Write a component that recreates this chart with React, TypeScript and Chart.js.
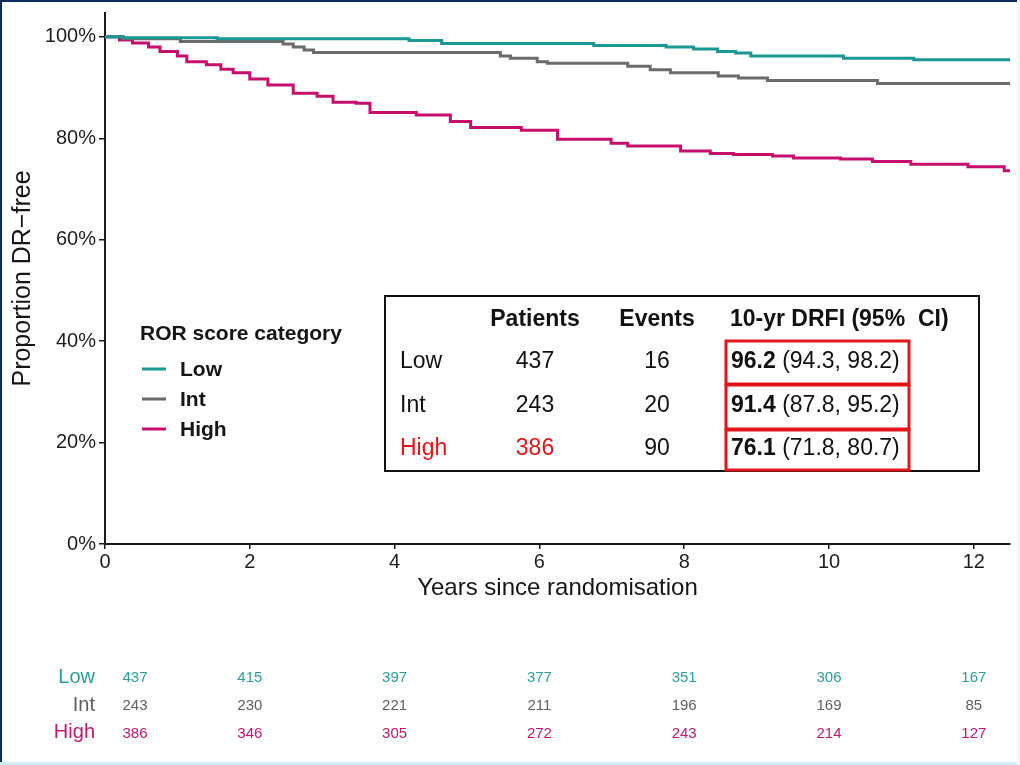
import React, { useEffect, useRef } from "react";
import { Chart, registerables } from "chart.js";

Chart.register(...registerables);

// Kaplan–Meier step curves: event times (years) and DR-free proportion (%) after each step
const lowTimes = [0, 0.25, 1.55, 4.2, 4.65, 6.75, 7.75, 8.13, 8.46, 8.71, 8.92, 10.2, 11.17, 12.5];
const lowSurv = [100, 99.8, 99.6, 99.3, 98.7, 98.3, 98.0, 97.6, 97.1, 96.8, 96.2, 95.8, 95.5, 95.5];

const intTimes = [0, 0.25, 1.04, 2.46, 2.6, 2.75, 2.88, 5.46, 5.6, 5.97, 6.11, 7.22, 7.53, 7.81, 8.47, 8.75, 9.15, 10.67, 12.5];
const intSurv = [100, 99.6, 99.1, 98.6, 98.0, 97.4, 96.9, 96.2, 95.8, 95.1, 94.8, 94.2, 93.5, 92.9, 92.3, 91.9, 91.4, 90.8, 90.8];

const highTimes = [0, 0.2, 0.38, 0.6, 0.76, 1.0, 1.13, 1.4, 1.6, 1.77, 2.0, 2.25, 2.6, 2.93, 3.15, 3.47, 3.66, 4.3, 4.77, 5.05, 5.75, 6.25, 6.99, 7.22, 7.95, 8.36, 8.68, 9.22, 9.51, 10.16, 10.6, 11.13, 11.92, 12.42, 12.5];
const highSurv = [100, 99.4, 98.8, 98.0, 97.1, 96.2, 95.1, 94.5, 93.6, 92.9, 91.7, 90.5, 88.9, 88.3, 87.1, 86.9, 85.1, 84.6, 83.3, 82.1, 81.6, 79.8, 79.0, 78.5, 77.5, 77.0, 76.8, 76.5, 76.1, 75.9, 75.4, 74.9, 74.4, 73.6, 73.6];

// Axis ticks
const xTicks = [0, 2, 4, 6, 8, 10, 12];
const yTicks = [0, 20, 40, 60, 80, 100];

// Numbers at risk
const riskTimes = [0, 2, 4, 6, 8, 10, 12];
const riskLow = [437, 415, 397, 377, 351, 306, 167];
const riskInt = [243, 230, 221, 211, 196, 169, 85];
const riskHigh = [386, 346, 305, 272, 243, 214, 127];

// Summary table
const groupNames = ["Low", "Int", "High"];
const patients = [437, 243, 386];
const events = [16, 20, 90];
const drfi10 = [96.2, 91.4, 76.1];
const ciLower = [94.3, 87.8, 71.8];
const ciUpper = [98.2, 95.2, 80.7];

const TEAL = "#1a9893";
const GRAY = "#6b6b6b";
const MAGENTA = "#c60f6c";
const FONT = "'Liberation Sans', Arial, Helvetica, sans-serif";

const toPoints = (t: number[], s: number[]) => t.map((x, i) => ({ x, y: s[i] }));

const overlayPlugin = {
  id: "overlay",
  afterDraw(chart: any) {
    const ctx: CanvasRenderingContext2D = chart.ctx;
    const xs = chart.scales.x;
    ctx.save();

    // Frame
    ctx.fillStyle = "#0d2c5c";
    ctx.fillRect(0, 0, 2, 765);
    ctx.fillRect(0, 0, 1020, 2);
    ctx.fillStyle = "#cdeef6";
    ctx.fillRect(0, 762, 1020, 3);
    ctx.fillStyle = "#eef7fa";
    ctx.fillRect(1017, 0, 3, 765);

    // Legend
    ctx.textBaseline = "middle";
    ctx.textAlign = "left";
    ctx.fillStyle = "#151515";
    ctx.font = `bold 21px ${FONT}`;
    ctx.fillText("ROR score category", 140, 334);
    const legendCols = [TEAL, GRAY, MAGENTA];
    const legendY = [369, 399, 429];
    groupNames.forEach((g, i) => {
      ctx.strokeStyle = legendCols[i];
      ctx.lineWidth = 3;
      ctx.beginPath();
      ctx.moveTo(142, legendY[i]);
      ctx.lineTo(166, legendY[i]);
      ctx.stroke();
      ctx.fillStyle = "#151515";
      ctx.fillText(g, 180, legendY[i] + 1);
    });

    // Summary table box
    ctx.fillStyle = "#ffffff";
    ctx.fillRect(385, 296, 594, 175);
    ctx.strokeStyle = "#111";
    ctx.lineWidth = 2;
    ctx.strokeRect(385, 296, 594, 175);

    ctx.fillStyle = "#111";
    ctx.font = `bold 23px ${FONT}`;
    ctx.textAlign = "center";
    ctx.fillText("Patients", 535, 320);
    ctx.fillText("Events", 657, 320);
    ctx.textAlign = "left";
    ctx.fillText("10-yr DRFI (95%  CI)", 730, 320);

    const rowY = [362, 406, 449];
    const RED = "#e0161b";
    groupNames.forEach((g, i) => {
      const y = rowY[i];
      const isHigh = g === "High";
      ctx.font = `23px ${FONT}`;
      ctx.textAlign = "left";
      ctx.fillStyle = isHigh ? RED : "#111";
      ctx.fillText(g, 400, y);
      ctx.textAlign = "center";
      ctx.fillText(String(patients[i]), 535, y);
      ctx.fillStyle = "#111";
      ctx.fillText(String(events[i]), 657, y);
      ctx.textAlign = "left";
      ctx.font = `bold 23px ${FONT}`;
      const bold = drfi10[i].toFixed(1);
      ctx.fillText(bold, 731, y);
      const w = ctx.measureText(bold).width;
      ctx.font = `23px ${FONT}`;
      ctx.fillText(` (${ciLower[i].toFixed(1)}, ${ciUpper[i].toFixed(1)})`, 731 + w, y);
    });

    // Red highlight boxes around the 10-year estimates
    ctx.strokeStyle = RED;
    ctx.lineWidth = 3;
    const boxTops = [341, 385, 430];
    const boxBottoms = [384, 429, 470];
    boxTops.forEach((t, i) => {
      ctx.strokeRect(726, t, 183, boxBottoms[i] - t);
    });

    // Numbers at risk
    const riskRows = [riskLow, riskInt, riskHigh];
    const riskCols = ["#2a9f99", "#5f5f5f", "#c2176e"];
    const labelY = [677, 705, 732];
    const numY = [678, 706, 734];
    riskRows.forEach((row, r) => {
      ctx.fillStyle = riskCols[r];
      ctx.font = `20px ${FONT}`;
      ctx.textAlign = "right";
      ctx.fillText(groupNames[r], 95, labelY[r]);
      ctx.font = `15px ${FONT}`;
      ctx.textAlign = "center";
      row.forEach((n, k) => {
        let px = xs.getPixelForValue(riskTimes[k]);
        if (k === 0) px += 30;
        ctx.fillText(String(n), px, numY[r]);
      });
    });

    ctx.restore();
  },
};

export default function App() {
  const canvasRef = useRef<HTMLCanvasElement | null>(null);

  useEffect(() => {
    if (!canvasRef.current) return;
    const chart = new Chart(canvasRef.current, {
      type: "line",
      data: {
        datasets: [
          { label: "Low", data: toPoints(lowTimes, lowSurv), borderColor: TEAL },
          { label: "Int", data: toPoints(intTimes, intSurv), borderColor: GRAY },
          { label: "High", data: toPoints(highTimes, highSurv), borderColor: MAGENTA },
        ].map((d) => ({ ...d, stepped: true, pointRadius: 0, borderWidth: 3, fill: false, tension: 0 })),
      },
      options: {
        animation: false,
        responsive: false,
        devicePixelRatio: 1,
        layout: { padding: { top: 13, right: 10, left: 0, bottom: 158 } },
        plugins: { legend: { display: false }, tooltip: { enabled: false } },
        scales: {
          x: {
            type: "linear",
            min: 0,
            max: 12.5,
            afterBuildTicks: (s: any) => {
              s.ticks = xTicks.map((v) => ({ value: v }));
            },
            afterFit: (s: any) => {
              s.height = 63;
              s.paddingLeft = 0;
              s.paddingRight = 0;
            },
            border: { display: true, color: "#1a1a1a", width: 2 },
            grid: { drawOnChartArea: false, drawTicks: true, tickLength: 5, color: "#1a1a1a", lineWidth: 1.5 },
            ticks: { color: "#1e1e1e", font: { family: FONT, size: 20 }, padding: 1, maxRotation: 0 },
            title: { display: true, text: "Years since randomisation", color: "#151515", font: { family: FONT, size: 24 } },
          },
          y: {
            type: "linear",
            min: 0,
            max: 104.7,
            afterBuildTicks: (s: any) => {
              s.ticks = yTicks.map((v) => ({ value: v }));
            },
            afterFit: (s: any) => {
              s.width = 105;
              s.paddingTop = 0;
              s.paddingBottom = 0;
            },
            border: { display: true, color: "#1a1a1a", width: 2 },
            grid: { drawOnChartArea: false, drawTicks: true, tickLength: 6, color: "#1a1a1a", lineWidth: 1.5 },
            ticks: { color: "#1e1e1e", font: { family: FONT, size: 20 }, padding: 3, callback: (v: any) => `${v}%` },
            title: { display: true, text: "Proportion DR\u2212free", color: "#151515", font: { family: FONT, size: 25 }, padding: { top: 8, bottom: 4 } },
          },
        },
      },
      plugins: [overlayPlugin],
    });
    return () => chart.destroy();
  }, []);

  return (
    <div style={{ position: "absolute", left: 0, top: 0, width: 1020, height: 765, background: "#ffffff" }}>
      <canvas ref={canvasRef} width={1020} height={765} style={{ width: 1020, height: 765, display: "block" }} />
    </div>
  );
}
